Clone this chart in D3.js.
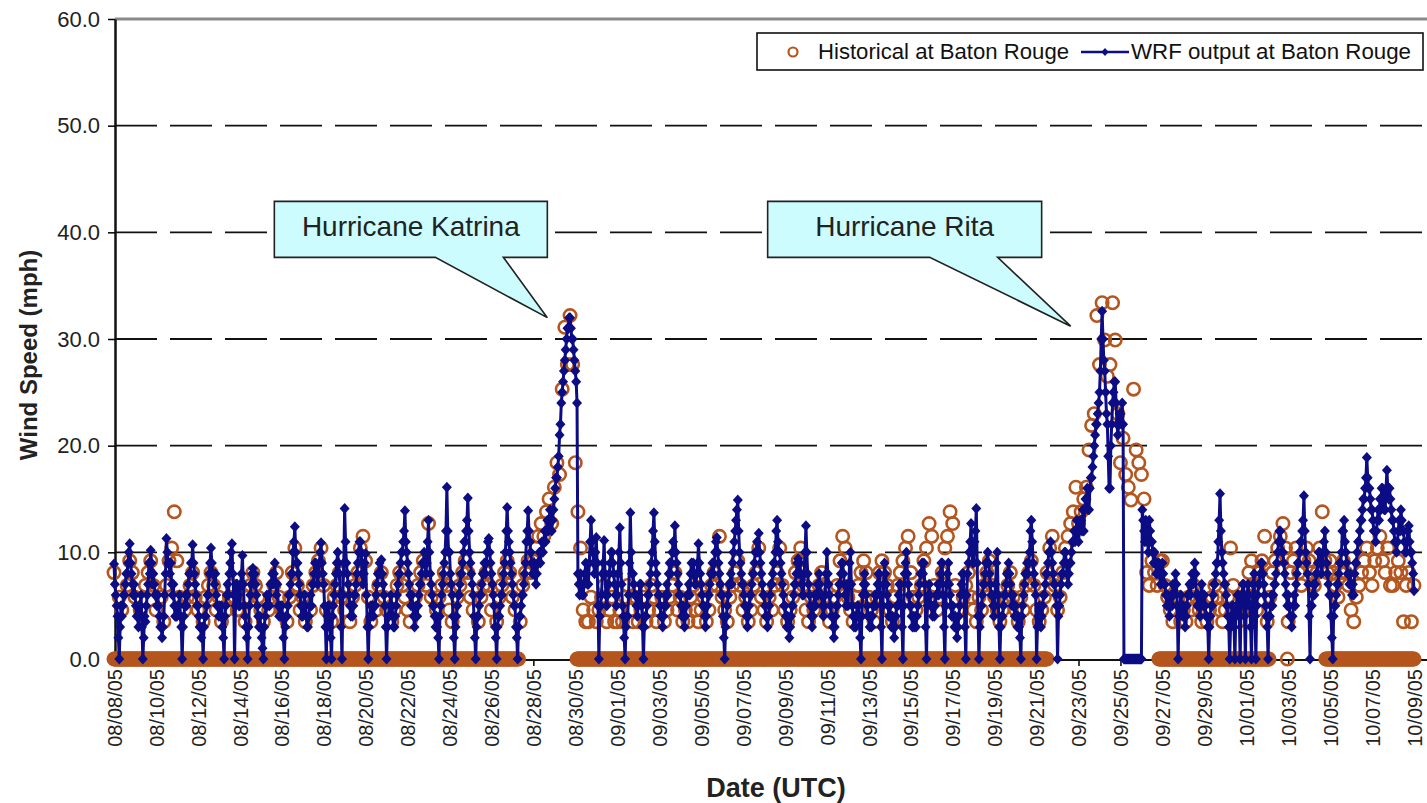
<!DOCTYPE html>
<html>
<head>
<meta charset="utf-8">
<script src="https://cdn.jsdelivr.net/npm/d3@7"></script>
<style>
  body { margin: 0; background: #fff; }
  svg { display: block; font-family: Arial, "Liberation Sans", sans-serif; }
</style>
</head>
<body>
<svg id="chart" width="1427" height="803"></svg>
<script>
// wind speed at Baton Rouge, Aug 8 - Oct 9 2005 (mph)
const startUtc = Date.UTC(2005, 7, 8);

// WRF model output, hourly (24 values per day)
const wrfAug = [
  8.9,7,6,5,4,2,0,3,5,4,5,6,6,7,8,8,9,10,10.8,9,8,7,6,7,
  6,5,4,4,3,5,5,6,3,0,2,4,3.5,5,6,7,9,8,10.2,9,7,8,7,6,
  6,5,6,5,4,3,3,2,3,4,6,8,11.3,10,9,9,8,9,7,6,7,5,4,4,
  4,5,5,6,4,3,0,3,4,5,6,5,6,7,8,8,9,9,10.7,9,8,7,6,5,
  5,4,3,3,2,3,0,3,4,4,5,6,6,8,9,10.4,9,8,8,7,8,6,5,5,
  4,5,4,5,3,2,0,4,5,6,7,6,8,9,10,10.8,8,6,0,5,7,7,6,5,
  5,7,8,9.7,7,5,4,3,2,0,3,5,6,7,8,8.5,7,8,7,6,5,4,3,4,
  3,2,1,0,3,4,5,6,5,6,5,7,7,8,7,8,9,7,6,7,5,4,5,4,
  5,4,2,0,3,4,4,5,6,6,7,8,8,10,11,12.4,10,9,9,8,7,6,5,4,
  4,5,6,5,4,3,3,4,5,6,5,7,7,8,9,9,8,7,8,9,10,10.9,9,8,
  7,5,3,0,4,5,5,3,2,0,4,5,6,7,8,9,10,9,8,6,3,0,6,9,
  14.1,11,9,8,7,6,5,4,5,4,5,6,6,7,8,9,10,11,11,10,8,7,8,9,
  9.9,6,3,0,3,4,5,4,5,4,5,5,6,7,8,8,9,8,9.3,8,7,6,5,3,
  0,3,4,4,5,6,5,4,3,3,4,5,6,7,8,8,9,10,10,11,12,13.9,11,10,
  9,8,7,6,5,6,5,4,3,4,5,4,5,6,7,7,8,9,9,10,9,8,9,11,
  13,10,8,7,6,5,5,4,3,4,3,2,0,4,5,6,7,8,9,10,12,16.1,12,10,
  10,8,7,6,4,2,0,3,4,5,6,6,7,8,8,9,10,11,11,12,13,15.1,12,10,
  9,8,7,6,4,2,0,3,4,4,5,6,6,7,8,8,9,8,9,10,11,11.3,10,9,
  8,7,6,5,3,2,0,3,4,4,5,6,6,7,8,9,10,12,14.2,12,11,10,9,8,
  7,6,5,5,3,2,0,3,4,4,5,6,6,7,8,9,11,12,13.9,12,11,10,9,8,
  8,9,8,7,8,9,9,10,9,10,11,10,11,12,11,12,13,12,13,14,13,12,13,14,
  15,16,17,17,18,19,21,22,24,25,26,27,28,29,30,31,31,32,32,31,30,30,29,28,
  27,26,24,8,7,6,8,7,6,6,7,8,9,8,7,7,9,11,13,11,10,9,8,10,
  11.4,9,5,0,4,5,6,8,9,11.1,8,6,5,6,7,8,9,10,10,9,8,7,6,5
];
const wrfSep = [
  6,8,10,12.3,9,7,5,4,2,0,3,4,4,6,9,13.7,10,8,8,7,6,6,5,4,
  5,6,7,7,5,3,0,3,4,4,5,6,6,7,8,9,10,12,13.7,11,9,8,7,6,
  6,5,4,4,3,4,5,6,5,7,6,8,9,8,9,10,11,10,12.5,10,9,8,7,6,
  6,5,4,5,4,3,4,5,6,6,7,6,8,9,8,9,8,7,7,8,9,10.8,9,8,
  7,6,5,5,4,3,4,5,6,6,7,8,8,9,8,9,10,11,11.4,10,9,8,7,6,
  6,4,2,0,3,4,5,6,7,7,8,7,9,10,11,12,13,14,14.9,12,10,9,8,7,
  7,6,5,5,4,3,4,5,6,6,7,8,8,9,10,10,11,10,11.8,10,9,8,7,6,
  6,5,4,4,3,4,5,6,7,7,8,9,9,10,12,13,11,10,10,9,8,7,6,5,
  5,4,3,4,3,2,3,4,5,5,6,7,7,8,9,9.4,8,9,8,7,6,6,8,10,
  12.5,10,8,7,6,5,4,3,4,5,6,5,6,7,6,8,7,6,6,5,4,5,6,8,
  10,8,7,6,5,4,4,3,2,3,4,5,5,6,7,7,8,9,9,8,7,6,5,7,
  5,7,9,10,7,5,4,3,4,3,4,5,5,4,2,0,4,6,7,8,7,6,5,4,
  4,3,4,3,4,5,5,6,5,6,7,8,8,6,3,0,5,7,9,8,7,6,5,4,
  5,4,3,4,3,2,3,4,5,5,6,7,7,5,3,0,5,8,9,10,8,7,6,5,
  5,4,3,4,3,4,3,4,5,6,7,8,8,9,8,9,7,3,0,5,6,7,6,5,
  5,4,5,4,5,6,6,7,6,7,8,9,9,6,3,0,5,7,8,9,7,6,5,4,
  5,4,3,4,3,2,3,4,5,6,7,8,8,6,3,0,6,8,9,10,11,12.7,10,9,
  9,11,12,14.1,9,4,0,3,4,5,6,7,7,8,9,9,10,9,8,7,6,6,5,4,
  5,7,9,10,6,3,0,3,4,4,5,6,6,7,8,8,9,8,7,6,5,6,5,4,
  5,4,3,4,3,2,0,4,5,6,7,8,8,9,8,9,10,12,13,11,9,8,7,6,
  0,3,4,5,4,3,4,5,6,6,7,8,8,9,10,10,11,10,9,8,7,7,6,5,
  0,4,5,6,7,8,8,9,10,10,9,8,7,8,9,9,10,11,11,12,11,12,13,12,
  11,12,13,13,12,14,12,14,15,15,16,14,14,16,17,17,18,19,20,21,22,22,23,24,
  25,27,30,32.6,30,28,27,25,23,22,19,16,16,20,22,24,25,26,26,24,22,21,22,23,
  23,22,24,22,0,0,0,0,0,0,0,0,0,0,0,0,0,0,0,0,0,0,0,0,
  0,14,13,12,11,13,12,11,10,13,12,11,11,10,9,10,9,8,9,8,9,8,7,8,
  9,8,7,7,6,5,6,5,4,5,6,5,7,6,7,8,7,5,0,4,5,6,5,4,
  5,4,3,4,5,6,6,7,6,7,8,7,8,9,8,6,5,6,5,4,5,7,6,5,
  6,5,4,4,3,0,3,4,5,5,6,7,7,8,9,9,11,13,15.5,12,10,9,8,7,
  7,6,5,4,3,0,3,4,5,5,3,0,4,5,6,6,4,0,5,6,7,7,4,0
];
const wrfOct = [
  5,6,7,6,5,3,0,5,7,8,4,0,5,6,7,7,8,9,9,8,7,6,5,4,
  3,0,4,4,5,6,5,6,7,7,8,9,10,11,12,12,11,10,10,9,8,7,6,5,
  6,5,4,4,3,4,5,6,5,7,8,9,9,10,11,11,12,13,15.3,12,10,9,8,7,
  4,0,5,5,6,7,6,7,8,8,9,10,10,9,8,9,10,11,12,10,9,8,7,6,
  6,4,2,0,4,5,5,6,7,7,8,9,9,10,12,12,13,11,10,9,8,8,7,8,
  7,6,7,6,8,9,9,10,11,11,12,13,13,14,15,15,16,17,18.9,17,16,16,15,14,
  14,13,12,12,11,12,13,14,13,15,14,16,16,15,14,14,16,17.7,16,15,16,15,14,13,
  13,12,11,11,10,11,12,13,12,14,13,12,12,11,10,10,11,12,12.5,11,10,10,9,8,
  6.4
];

// historical observations, every 3 h (0 = no non-calm report in that slot)
const histAug = [
  8.1,0,5.8,4.6,0,6.9,9.2,8.1,  5.8,0,4.6,0,6.9,8.1,9.2,6.9,  4.6,0,5.8,3.5,6.9,9.2,10.4,13.8,  9.2,5.8,0,4.6,5.8,6.9,8.1,5.8,
  4.6,0,3.5,5.8,6.9,8.1,6.9,4.6,  5.8,3.5,0,4.6,5.8,6.9,5.8,4.6,  4.6,0,3.5,5.8,6.9,8.1,6.9,5.8,  4.6,3.5,0,4.6,5.8,6.9,8.1,5.8,
  4.6,0,3.5,5.8,8.1,10.4,6.9,4.6,  5.8,3.5,0,4.6,6.9,8.1,9.2,10.4,  6.9,4.6,0,3.5,5.8,6.9,8.1,5.8,  4.6,0,3.5,5.8,6.9,8.1,10.4,11.5,
  9.2,5.8,3.5,0,4.6,6.9,8.1,5.8,  4.6,0,3.5,4.6,6.9,8.1,6.9,5.8,  4.6,3.5,0,5.8,6.9,8.1,9.2,6.9,  12.7,5.8,0,4.6,5.8,6.9,8.1,6.9,
  4.6,3.5,0,5.8,6.9,8.1,9.2,8.1,  5.8,4.6,0,3.5,5.8,6.9,8.1,6.9,  4.6,0,3.5,5.8,6.9,8.1,9.2,8.1,  5.8,4.6,0,3.5,6.9,8.1,9.2,8.1,
  9.2,10.4,11.5,12.7,11.5,13.8,15,12.7,  16.1,18.4,17.3,25.3,31.1,27.6,32.2,27.6,  18.4,13.8,10.4,4.6,3.5,3.5,5.8,4.6,  3.5,4.6,5.8,6.9,3.5,4.6,5.8,3.5
];
const histSep = [
  3.5,4.6,3.5,5.8,6.9,4.6,3.5,5.8,  3.5,4.6,5.8,3.5,4.6,6.9,5.8,3.5,  4.6,5.8,3.5,4.6,5.8,6.9,8.1,4.6,  5.8,3.5,4.6,3.5,5.8,6.9,4.6,3.5,
  4.6,5.8,3.5,4.6,6.9,8.1,6.9,11.5,  5.8,4.6,3.5,5.8,6.9,8.1,9.2,6.9,  4.6,5.8,3.5,4.6,6.9,8.1,10.4,5.8,  4.6,3.5,5.8,4.6,6.9,8.1,10.4,6.9,
  4.6,3.5,4.6,5.8,8.1,9.2,10.4,6.9,  4.6,3.5,5.8,4.6,5.8,6.9,8.1,5.8,  4.6,3.5,4.6,5.8,6.9,9.2,11.5,10.4,  5.8,4.6,3.5,5.8,6.9,8.1,9.2,8.1,
  5.8,4.6,3.5,5.8,8.1,9.2,8.1,6.9,  4.6,3.5,5.8,6.9,8.1,9.2,10.4,11.5,  8.1,5.8,4.6,5.8,6.9,9.2,10.4,12.7,  11.5,6.9,4.6,5.8,8.1,10.4,11.5,13.8,
  12.7,6.9,4.6,3.5,5.8,6.9,8.1,5.8,  4.6,3.5,5.8,4.6,6.9,8.1,9.2,6.9,  5.8,4.6,3.5,4.6,5.8,6.9,8.1,5.8,  4.6,3.5,5.8,4.6,6.9,8.1,9.2,6.9,
  4.6,3.5,4.6,5.8,8.1,10.4,11.5,6.9,  4.6,5.8,8.1,10.4,11.5,12.7,13.8,16.1,  12.7,13.8,15,16.1,19.6,21.9,23,32.2,  27.6,33.4,29.9,26.5,27.6,33.4,29.9,23,
  18.4,20.7,17.3,16.1,14.9,25.3,19.6,18.4,  17.3,15,8.1,6.9,9.2,8.1,6.9,9.2,  9.2,6.9,5.8,4.6,3.5,4.6,5.8,3.5,  4.6,3.5,5.8,4.6,6.9,5.8,4.6,3.5,
  4.6,3.5,4.6,5.8,6.9,5.8,4.6,3.5,  4.6,5.8,10.4,6.9,4.6,3.5,5.8,4.6
];
const histOct = [
  5.8,8.1,9.2,6.9,4.6,8.1,9.2,11.5,  3.5,5.8,8.1,9.2,10.4,11.5,12.7,10.4,  3.5,8.1,9.2,10.4,8.1,6.9,9.2,10.4,  9.2,8.1,6.9,8.1,10.4,13.8,9.2,8.1,
  9.2,8.1,6.9,5.8,8.1,9.2,8.1,6.9,  4.6,3.5,5.8,6.9,8.1,9.2,10.4,8.1,  6.9,9.2,10.4,11.5,9.2,8.1,10.4,6.9,  6.9,8.1,9.2,8.1,3.5,6.9,8.1,3.5,
  6.9
];
// periods of hourly calm (0 mph) reports
const histCalmSpans = [
  ["2005-08-08T00:00Z", "2005-08-27T07:00Z"],
  ["2005-08-30T02:00Z", "2005-09-21T12:00Z"],
  ["2005-09-26T20:00Z", "2005-10-02T02:00Z"],
  ["2005-10-02T23:00Z", "2005-10-02T23:00Z"],
  ["2005-10-04T19:00Z", "2005-10-09T00:00Z"]
];

const yTicks = [0, 10, 20, 30, 40, 50, 60];
const seriesNames = ["Historical at Baton Rouge", "WRF output at Baton Rouge"];
const callouts = [
  { label: "Hurricane Katrina", date: "2005-08-28T16:00Z", value: 32.0 },
  { label: "Hurricane Rita", date: "2005-09-22T15:00Z", value: 31.2 }
];

const brown = "#b5561e", navy = "#0c0c84";

const toSeries = (parts, stepHours) => parts.flat()
  .map((v, i) => ({ date: new Date(startUtc + i * stepHours * 3600e3), v }));
const wrf = toSeries([wrfAug, wrfSep, wrfOct], 1);
const histObs = toSeries([histAug, histSep, histOct], 3).filter(d => d.v > 0);
const histCalm = histCalmSpans.flatMap(([a, b]) =>
  d3.utcHour.range(new Date(a), d3.utcHour.offset(new Date(b), 1)).map(date => ({ date, v: 0 })));

const svg = d3.select("#chart");
const plotLeft = 115, plotRight = 1427, plotTop = 19, plotBottom = 659;

const x = d3.scaleUtc()
  .domain([new Date(startUtc), new Date(Date.UTC(2005, 9, 9))])
  .range([114, 1414]);
const y = d3.scaleLinear().domain([0, 60]).range([plotBottom, plotTop]);

// dashed grid + top frame
svg.append("g").selectAll("line")
  .data(yTicks.filter(t => t > 0 && t < 60))
  .enter().append("line")
  .attr("x1", plotLeft).attr("x2", plotRight)
  .attr("y1", d => y(d)).attr("y2", d => y(d))
  .attr("stroke", "#111").attr("stroke-width", 1.8)
  .attr("stroke-dasharray", "42,13");
svg.append("line")
  .attr("x1", plotLeft).attr("x2", plotRight).attr("y1", y(60)).attr("y2", y(60))
  .attr("stroke", "#8a8a8a").attr("stroke-width", 3);

// axes
const yAxis = svg.append("g")
  .attr("transform", `translate(${plotLeft},0)`)
  .call(d3.axisLeft(y).tickValues(yTicks).tickFormat(d3.format(".1f")).tickSize(7).tickSizeOuter(0).tickPadding(8));
yAxis.select(".domain").attr("stroke-width", 2.5).attr("stroke", "#111");
yAxis.selectAll(".tick line").attr("stroke-width", 1.5);
yAxis.selectAll("text").attr("font-size", 22).attr("fill", "#222").attr("font-family", "Arial, Liberation Sans, sans-serif");

const xTickDates = d3.utcDay.range(new Date(startUtc), new Date(Date.UTC(2005, 9, 10)), 2);
const xAxis = svg.append("g")
  .attr("transform", `translate(0,${plotBottom + 1})`)
  .call(d3.axisBottom(x).tickValues(xTickDates).tickFormat(d3.utcFormat("%m/%d/%y")).tickSize(6).tickSizeOuter(0));
xAxis.select(".domain").remove();
xAxis.append("line").attr("x1", plotLeft).attr("x2", plotRight).attr("stroke", "#111").attr("stroke-width", 2);
xAxis.selectAll(".tick line").attr("stroke-width", 1.5);
xAxis.selectAll("text")
  .attr("transform", "rotate(-90)")
  .attr("text-anchor", "end")
  .attr("x", -9).attr("y", 0).attr("dy", "0.36em")
  .attr("font-size", 20).attr("fill", "#222").attr("font-family", "Arial, Liberation Sans, sans-serif");

// historical circles
const histG = svg.append("g").attr("fill", "none").attr("stroke", brown).attr("stroke-width", 2.6);
histG.selectAll("circle.calm").data(histCalm).enter().append("circle")
  .attr("class", "calm").attr("r", 6.2)
  .attr("cx", d => x(d.date)).attr("cy", d => y(d.v));
histG.selectAll("circle.obs").data(histObs).enter().append("circle")
  .attr("class", "obs").attr("r", 6.2)
  .attr("cx", d => x(d.date)).attr("cy", d => y(d.v));

// WRF line + diamonds
const line = d3.line().x(d => x(d.date)).y(d => y(d.v));
svg.append("path").datum(wrf)
  .attr("d", line).attr("fill", "none")
  .attr("stroke", navy).attr("stroke-width", 3).attr("stroke-linejoin", "round");
const diamond = "M0,-5.5L5,0L0,5.5L-5,0Z";
svg.append("g").selectAll("path").data(wrf).enter().append("path")
  .attr("d", diamond).attr("fill", navy)
  .attr("transform", d => `translate(${x(d.date)},${y(d.v)})`);

// callouts
callouts.forEach((c, i) => {
  const tx = x(new Date(c.date)), ty = y(c.value);
  const box = i === 0
    ? { l: tx - 273, r: tx, w1: tx - 112, w2: tx - 44 }
    : { l: tx - 303, r: tx - 29, w1: tx - 141, w2: tx - 73 };
  const bt = y(40) - 31, bb = y(40) + 25;
  const pts = [[box.l, bt], [box.r, bt], [box.r, bb], [box.w2, bb], [tx, ty], [box.w1, bb], [box.l, bb]];
  svg.append("polygon")
    .attr("points", pts.map(p => p.join(",")).join(" "))
    .attr("fill", "#ccfcfd").attr("stroke", "#222").attr("stroke-width", 1.6);
  svg.append("text")
    .attr("x", (box.l + box.r) / 2).attr("y", bt + 35)
    .attr("text-anchor", "middle").attr("font-size", 28).attr("fill", "#222")
    .text(c.label);
});

// legend
const lg = svg.append("g");
lg.append("rect").attr("x", 757).attr("y", 33).attr("width", 666).attr("height", 37)
  .attr("fill", "#fff").attr("stroke", "#111").attr("stroke-width", 1.6);
lg.append("circle").attr("cx", 793).attr("cy", 52).attr("r", 4.5)
  .attr("fill", "none").attr("stroke", brown).attr("stroke-width", 2.2);
lg.append("text").attr("x", 818).attr("y", 59).attr("font-size", 21.5).attr("fill", "#111")
  .attr("textLength", 251).attr("lengthAdjust", "spacingAndGlyphs").text(seriesNames[0]);
lg.append("line").attr("x1", 1081).attr("x2", 1129).attr("y1", 52).attr("y2", 52)
  .attr("stroke", navy).attr("stroke-width", 2.5);
lg.append("path").attr("d", "M0,-4L3.6,0L0,4L-3.6,0Z").attr("fill", navy).attr("transform", "translate(1105,52)");
lg.append("text").attr("x", 1131).attr("y", 59).attr("font-size", 21.5).attr("fill", "#111")
  .attr("textLength", 280).attr("lengthAdjust", "spacingAndGlyphs").text(seriesNames[1]);

// axis titles
svg.append("text")
  .attr("transform", "translate(37,355) rotate(-90)")
  .attr("text-anchor", "middle").attr("font-size", 24).attr("font-weight", "bold").attr("fill", "#222")
  .text("Wind Speed (mph)");
svg.append("text")
  .attr("x", 776).attr("y", 797)
  .attr("text-anchor", "middle").attr("font-size", 27).attr("font-weight", "bold").attr("fill", "#222")
  .text("Date (UTC)");
</script>
</body>
</html>
